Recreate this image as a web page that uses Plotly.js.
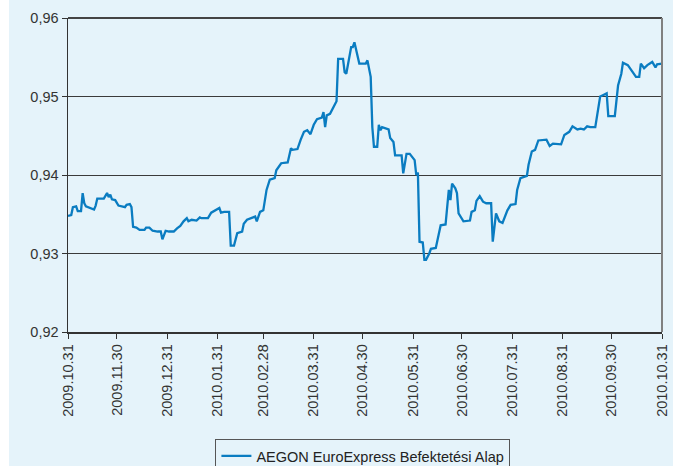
<!DOCTYPE html>
<html>
<head>
<meta charset="utf-8">
<script src="https://cdn.plot.ly/plotly-3.0.1.min.js"></script>
<style>
html,body{margin:0;padding:0;background:#ffffff;width:673px;height:466px;overflow:hidden;}
#chart{position:absolute;left:9px;top:0;width:664px;height:466px;}
</style>
</head>
<body>
<div id="chart"></div>
<script>
const seriesName = "AEGON EuroExpress Befektetési Alap";
const dates = [
"2009-10-31","2009-11-02","2009-11-03","2009-11-05","2009-11-06","2009-11-08","2009-11-09","2009-11-10","2009-11-11","2009-11-13",
"2009-11-16","2009-11-17","2009-11-18","2009-11-22","2009-11-24","2009-11-25","2009-11-26","2009-11-27","2009-11-29","2009-12-01",
"2009-12-03","2009-12-05","2009-12-06","2009-12-08","2009-12-09","2009-12-10","2009-12-12","2009-12-14","2009-12-17","2009-12-18",
"2009-12-20","2009-12-22","2009-12-25","2009-12-27","2009-12-28","2009-12-30","2010-01-01","2010-01-04","2010-01-06","2010-01-08",
"2010-01-10","2010-01-12","2010-01-13","2010-01-15","2010-01-18","2010-01-20","2010-01-21","2010-01-25","2010-01-27","2010-01-30",
"2010-02-01","2010-02-02","2010-02-04","2010-02-07","2010-02-08","2010-02-10","2010-02-12","2010-02-15","2010-02-16","2010-02-18",
"2010-02-21","2010-02-23","2010-02-24","2010-02-26","2010-02-28","2010-03-02","2010-03-04","2010-03-07","2010-03-08","2010-03-10",
"2010-03-11","2010-03-15","2010-03-17","2010-03-18","2010-03-21","2010-03-23","2010-03-25","2010-03-27","2010-03-29","2010-03-31",
"2010-04-02","2010-04-05","2010-04-06","2010-04-07","2010-04-08","2010-04-10","2010-04-12","2010-04-14","2010-04-15","2010-04-18",
"2010-04-19","2010-04-20","2010-04-23","2010-04-24","2010-04-25","2010-04-26","2010-04-28","2010-05-02","2010-05-03","2010-05-05",
"2010-05-06","2010-05-07","2010-05-09","2010-05-10","2010-05-11","2010-05-12","2010-05-16","2010-05-17","2010-05-19","2010-05-20",
"2010-05-24","2010-05-25","2010-05-26","2010-05-27","2010-05-29","2010-06-01","2010-06-02","2010-06-03","2010-06-04","2010-06-06",
"2010-06-07","2010-06-08","2010-06-10","2010-06-11","2010-06-14","2010-06-15","2010-06-17","2010-06-20","2010-06-21","2010-06-22",
"2010-06-23","2010-06-24","2010-06-26","2010-06-27","2010-06-28","2010-07-01","2010-07-05","2010-07-06","2010-07-08","2010-07-09",
"2010-07-11","2010-07-13","2010-07-15","2010-07-18","2010-07-19","2010-07-20","2010-07-21","2010-07-23","2010-07-25","2010-07-28",
"2010-07-30","2010-08-02","2010-08-03","2010-08-05","2010-08-09","2010-08-10","2010-08-12","2010-08-14","2010-08-16","2010-08-21",
"2010-08-23","2010-08-25","2010-08-28","2010-08-30","2010-09-01","2010-09-04","2010-09-06","2010-09-07","2010-09-09","2010-09-11",
"2010-09-13","2010-09-15","2010-09-17","2010-09-20","2010-09-22","2010-09-23","2010-09-25","2010-09-27","2010-09-28","2010-10-02",
"2010-10-04","2010-10-06","2010-10-07","2010-10-10","2010-10-13","2010-10-15","2010-10-17","2010-10-18","2010-10-20","2010-10-22",
"2010-10-25","2010-10-27","2010-10-28","2010-10-31"
];
const values = [
0.9348,0.9349,0.9359,0.9360,0.9354,0.9354,0.9377,0.9364,0.9360,0.9358,
0.9356,0.9361,0.9370,0.9370,0.9377,0.9372,0.9375,0.9369,0.9368,0.9361,
0.9360,0.9359,0.9362,0.9363,0.9359,0.9334,0.9333,0.9330,0.9330,0.9333,
0.9333,0.9329,0.9328,0.9328,0.9318,0.9329,0.9328,0.9328,0.9332,0.9335,
0.9341,0.9345,0.9341,0.9343,0.9342,0.9346,0.9345,0.9345,0.9352,0.9356,
0.9358,0.9352,0.9353,0.9353,0.9310,0.9310,0.9326,0.9328,0.9338,0.9343,
0.9345,0.9347,0.9341,0.9353,0.9355,0.9381,0.9394,0.9396,0.9406,0.9413,
0.9415,0.9416,0.9434,0.9432,0.9433,0.9445,0.9455,0.9457,0.9452,0.9464,
0.9471,0.9473,0.9480,0.9461,0.9476,0.9478,0.9487,0.9494,0.9548,0.9548,
0.9531,0.9529,0.9563,0.9563,0.9569,0.9561,0.9542,0.9542,0.9546,0.9525,
0.9461,0.9436,0.9436,0.9464,0.9457,0.9461,0.9458,0.9447,0.9442,0.9425,
0.9425,0.9402,0.9413,0.9427,0.9427,0.9419,0.9400,0.9403,0.9315,0.9314,
0.9292,0.9292,0.9300,0.9306,0.9307,0.9317,0.9336,0.9337,0.9356,0.9381,
0.9368,0.9389,0.9383,0.9377,0.9351,0.9341,0.9342,0.9353,0.9355,0.9367,
0.9373,0.9366,0.9364,0.9364,0.9315,0.9330,0.9351,0.9341,0.9339,0.9355,
0.9362,0.9363,0.9381,0.9396,0.9399,0.9413,0.9430,0.9432,0.9444,0.9445,
0.9437,0.9440,0.9439,0.9439,0.9451,0.9455,0.9462,0.9461,0.9458,0.9459,
0.9458,0.9462,0.9461,0.9461,0.9487,0.9500,0.9502,0.9504,0.9475,0.9475,
0.9514,0.9529,0.9543,0.9540,0.9531,0.9525,0.9525,0.9542,0.9536,0.9540,
0.9544,0.9537,0.9541,0.9542
];
const tickDates = ["2009-10-31","2009-11-30","2009-12-31","2010-01-31","2010-02-28","2010-03-31","2010-04-30","2010-05-31","2010-06-30","2010-07-31","2010-08-31","2010-09-30","2010-10-31"];
const tickLabels = ["2009.10.31","2009.11.30","2009.12.31","2010.01.31","2010.02.28","2010.03.31","2010.04.30","2010.05.31","2010.06.30","2010.07.31","2010.08.31","2010.09.30","2010.10.31"];
const yTicks = [0.92,0.93,0.94,0.95,0.96];

const bg = "#E5F3FA";
const font = "Liberation Sans, Arial, sans-serif";

const trace = {
  x: dates, y: values, type: "scatter", mode: "lines", name: seriesName,
  line: {color: "#0A7CC1", width: 2.3}, hoverinfo: "skip"
};

const layout = {
  width: 664, height: 466,
  paper_bgcolor: bg, plot_bgcolor: bg,
  margin: {l: 59, r: 11, t: 18, b: 134, pad: 0, autoexpand: false},
  separators: ",.",
  font: {family: font, color: "#333333", size: 13},
  showlegend: true,
  legend: {
    orientation: "h", xref: "container", yref: "container",
    x: 0.533, xanchor: "center", y: 0.058, yanchor: "top",
    bgcolor: bg, bordercolor: "#555555", borderwidth: 1,
    font: {family: font, size: 14.5, color: "#222222"}
  },
  xaxis: {
    type: "date", range: ["2009-10-31", "2010-10-31"], automargin: false,
    tickmode: "array", tickvals: tickDates, ticktext: tickLabels,
    tickangle: -90, ticks: "outside", ticklen: 5, tickwidth: 1, tickcolor: "#333333",
    showgrid: false, zeroline: false,
    showline: true, linecolor: "#333333", linewidth: 1.5,
    tickfont: {family: font, size: 14.5, color: "#333333"}
  },
  yaxis: {
    range: [0.92, 0.96], tickmode: "array", tickvals: yTicks, tickformat: ".2f", automargin: false,
    ticks: "outside", ticklen: 5, tickwidth: 1, tickcolor: "#333333",
    showgrid: true, gridcolor: "#3a3a3a", gridwidth: 1, zeroline: false,
    showline: true, linecolor: "#333333", linewidth: 1.5,
    tickfont: {family: font, size: 14.5, color: "#333333"}
  },
  shapes: [
    {type: "line", xref: "paper", yref: "paper", x0: 0, x1: 1, y0: 1, y1: 1,
     line: {color: "#444444", width: 2}},
    {type: "line", xref: "paper", yref: "paper", x0: 1, x1: 1, y0: 0, y1: 1,
     line: {color: "#808080", width: 2}}
  ]
};

Plotly.newPlot("chart", [trace], layout, {displayModeBar: false, staticPlot: true});
</script>
</body>
</html>
